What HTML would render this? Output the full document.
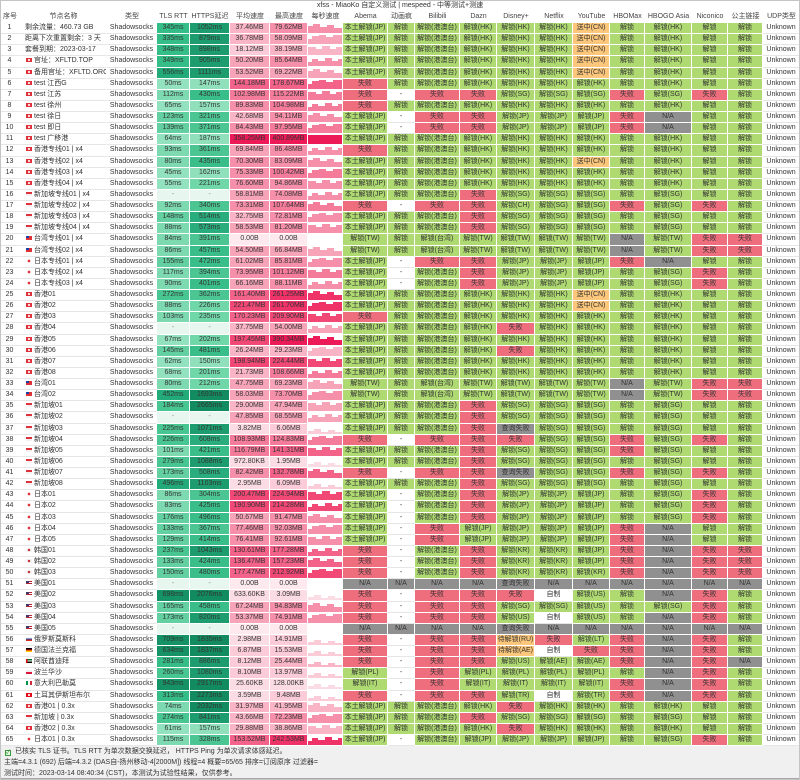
<!DOCTYPE html>
<html><head><meta charset="utf-8">
<style>
*{margin:0;padding:0;box-sizing:border-box}
html,body{width:800px;height:780px;overflow:hidden;background:#fff}
body{position:relative;font-family:"Liberation Sans","Noto Sans CJK SC",sans-serif;font-size:7px;color:#333}
.ttl{position:absolute;left:0;top:0;width:800px;height:11px;line-height:11px;text-align:center;color:#333}
.g{display:grid;grid-template-columns:20px 87px 50px 33px 40px 40px 38px 35px 45px 27px 45px 37px 38px 38px 37px 35px 47px 36px 35px 37px;position:absolute;left:0;width:800px}
.hd{top:11px;grid-template-rows:12px}
.hd>i{font-style:normal;display:block;text-align:center;white-space:nowrap;overflow:hidden;line-height:12px;color:#444}
.t{top:23px;grid-template-rows:repeat(65,11.125px)}
.t>i{font-style:normal;display:block;text-align:center;white-space:nowrap;overflow:hidden;line-height:10px;border-right:1px solid #fff;border-bottom:1px solid #fff;background:#fff}
.t>i:nth-child(20n+2){text-align:left;padding-left:5px}
.t>i:nth-child(20n+1),.t>i:nth-child(20n+2),.t>i:nth-child(20n+3),.t>i:nth-child(20n),.t>i.W{border-bottom-color:#e6e6e6}
.t svg{display:block;width:34px;height:10px}
.G{background:#aeda71!important}
.R{background:#ef6e7d!important}
.N{background:#909090!important}
.O{background:#fcc77a!important}
.m{background:#e7f7ef!important;color:#888}
.a1{background:#93e2bf!important}.a2{background:#7cd9b0!important}.a3{background:#62d0a0!important}.a4{background:#48c691!important}.a5{background:#35bd87!important}.a6{background:#22aa78!important}.a7{background:#159266!important}
.b1{background:#8fe0bb!important}.b2{background:#70d7a9!important}.b3{background:#4bc693!important}.b4{background:#3abe89!important}.b5{background:#29ad7c!important}.b6{background:#1d9c6e!important}.b7{background:#138b60!important}
.p0{background:#fde9ee!important}.p1{background:#fcdce4!important}.p2{background:#fbcbd7!important}.p3{background:#f9b5c6!important}.p4{background:#f7a3b8!important}.p5{background:#f68fa9!important}.p6{background:#f57b9b!important}.p7{background:#f36288!important}.p8{background:#f14876!important}.p9{background:#ef3267!important}.p10{background:#ec1b57!important}
.t b{display:inline-block;width:6px;height:4px;margin:0 2px 0 1px;vertical-align:0}
.hk{background:radial-gradient(circle,#fff 0 0.8px,#e0303a 1.2px)}
.tw{background:linear-gradient(#1c3fa0,#1c3fa0) 0 0/3px 2px no-repeat,#e0303a}
.sg{background:linear-gradient(#e0303a 50%,#f2f2f2 50%)}
.jp{background:radial-gradient(circle,#e0303a 0 1.2px,#fff 1.5px)}
.kr{background:radial-gradient(circle,#c8343e 0 1.1px,#f4f4f4 1.4px)}
.us{background:linear-gradient(#3c3b6e,#3c3b6e) 0 0/3px 2px no-repeat,linear-gradient(#b22234 25%,#fff 25% 50%,#b22234 50% 75%,#fff 75%)}
.ru{background:linear-gradient(#f4f4f4 33%,#1c3fa0 33% 66%,#d52b1e 66%)}
.de{background:linear-gradient(#000 33%,#d00 33% 66%,#fc0 66%)}
.ae{background:linear-gradient(90deg,#d00 25%,transparent 25%),linear-gradient(#00732f 33%,#fff 33% 66%,#000 66%)}
.pl{background:linear-gradient(#eee 50%,#dc143c 50%)}
.it{background:linear-gradient(90deg,#009246 33%,#fff 33% 66%,#ce2b37 66%)}
.tr{background:radial-gradient(circle,#fff 0 0.8px,#e30a17 1.2px)}
.ft{position:absolute;left:0;top:746px;width:800px;height:34px;background:#f0f0f0;border-bottom:2px solid #a8a8a8;padding-top:0}
.ft p{height:11px;line-height:11px;padding-left:4px;white-space:nowrap}
.ck{display:inline-block;width:6px;height:6px;border:1px solid #3a9a3a;background:#e8f6e8;color:#2a8a2a;font-size:6px;line-height:4px;text-align:center;margin:0 4px 0 1px;vertical-align:-1px}
.bd{position:absolute;left:0;top:0;width:800px;height:780px;border:1px solid #c4c4c4;pointer-events:none}
</style></head><body>
<svg width="0" height="0" style="position:absolute"><defs>
<path id="s1" d="M0 10V3H5V1H12V4H19V2H26V5H34V10Z"/>
<path id="s2" d="M0 10V5H4V2H11V1H18V3H25V1H34V10Z"/>
<path id="s3" d="M0 10V2H8V4H14V1H22V4H28V2H34V10Z"/>
<path id="s4" d="M0 10V6H4V3H10V5H17V2H24V5H30V3H34V10Z"/>
<path id="s5" d="M0 10V7H6V5H13V8H20V6H27V8H34V10Z"/>
<path id="s6" d="M0 10V1H34V10Z"/>
</defs></svg>
<div class="ttl">xfss - MiaoKo 自定义测试 | mespeed - 中等测试+测速</div>
<div class="g hd"><i>序号</i><i>节点名称</i><i>类型</i><i>TLS RTT</i><i>HTTPS延迟</i><i>平均速度</i><i>最高速度</i><i>每秒速度</i><i>Abema</i><i>动画疯</i><i>Bilibili</i><i>Dazn</i><i>Disney+</i><i>Netflix</i><i>YouTube</i><i>HBOMax</i><i>HBOGO Asia</i><i>Niconico</i><i>公主链接</i><i>UDP类型</i></div>
<div class="g t">
<i>1</i><i>剩余流量：460.73 GB</i><i>Shadowsocks</i><i class=a5>345ms</i><i class=b6>1052ms</i><i class=p3>37.46MB</i><i class=p5>79.62MB</i><i><svg><use href="#s1" fill="#f68fa9"/></svg></i><i class=G>本土解锁(JP)</i><i class=G>解锁</i><i class=G>解锁(港澳台)</i><i class=G>解锁(HK)</i><i class=G>解锁(HK)</i><i class=G>解锁(HK)</i><i class=O>送中(CN)</i><i class=G>解锁</i><i class=G>解锁(HK)</i><i class=G>解锁</i><i class=G>解锁</i><i>Unknown</i>
<i>2</i><i>距离下次重置剩余：3 天</i><i>Shadowsocks</i><i class=a5>335ms</i><i class=b6>879ms</i><i class=p3>36.78MB</i><i class=p4>58.09MB</i><i><svg><use href="#s2" fill="#f7a3b8"/></svg></i><i class=G>本土解锁(JP)</i><i class=G>解锁</i><i class=G>解锁(港澳台)</i><i class=G>解锁(HK)</i><i class=G>解锁(HK)</i><i class=G>解锁(HK)</i><i class=O>送中(CN)</i><i class=G>解锁</i><i class=G>解锁(HK)</i><i class=G>解锁</i><i class=G>解锁</i><i>Unknown</i>
<i>3</i><i>套餐到期：2023-03-17</i><i>Shadowsocks</i><i class=a5>348ms</i><i class=b6>898ms</i><i class=p2>18.12MB</i><i class=p3>38.19MB</i><i><svg><use href="#s3" fill="#f9b5c6"/></svg></i><i class=G>本土解锁(JP)</i><i class=G>解锁</i><i class=G>解锁(港澳台)</i><i class=G>解锁(HK)</i><i class=G>解锁(HK)</i><i class=G>解锁(HK)</i><i class=O>送中(CN)</i><i class=G>解锁</i><i class=G>解锁(HK)</i><i class=G>解锁</i><i class=G>解锁</i><i>Unknown</i>
<i>4</i><i><b class=hk></b>官址：XFLTD.TOP</i><i>Shadowsocks</i><i class=a5>349ms</i><i class=b6>905ms</i><i class=p4>50.20MB</i><i class=p5>85.64MB</i><i><svg><use href="#s4" fill="#f68fa9"/></svg></i><i class=G>本土解锁(JP)</i><i class=G>解锁</i><i class=G>解锁(港澳台)</i><i class=G>解锁(HK)</i><i class=G>解锁(HK)</i><i class=G>解锁(HK)</i><i class=O>送中(CN)</i><i class=G>解锁</i><i class=G>解锁(HK)</i><i class=G>解锁</i><i class=G>解锁</i><i>Unknown</i>
<i>5</i><i><b class=hk></b>备用官址：XFLTD.ORG</i><i>Shadowsocks</i><i class=a6>556ms</i><i class=b6>1111ms</i><i class=p4>53.52MB</i><i class=p4>69.22MB</i><i><svg><use href="#s1" fill="#f7a3b8"/></svg></i><i class=G>本土解锁(JP)</i><i class=G>解锁</i><i class=G>解锁(港澳台)</i><i class=G>解锁(HK)</i><i class=G>解锁(HK)</i><i class=G>解锁(HK)</i><i class=O>送中(CN)</i><i class=G>解锁</i><i class=G>解锁(HK)</i><i class=G>解锁</i><i class=G>解锁</i><i>Unknown</i>
<i>6</i><i><b class=hk></b>test 江西G</i><i>Shadowsocks</i><i class=a1>50ms</i><i class=b1>147ms</i><i class=p7>144.18MB</i><i class=p7>178.67MB</i><i><svg><use href="#s2" fill="#f36288"/></svg></i><i class=R>失败</i><i class=G>解锁</i><i class=G>解锁(港澳台)</i><i class=G>解锁(HK)</i><i class=G>解锁(HK)</i><i class=G>解锁(HK)</i><i class=G>解锁(HK)</i><i class=G>解锁</i><i class=G>解锁(HK)</i><i class=G>解锁</i><i class=G>解锁</i><i>Unknown</i>
<i>7</i><i><b class=hk></b>test 江苏</i><i>Shadowsocks</i><i class=a2>112ms</i><i class=b4>430ms</i><i class=p6>102.98MB</i><i class=p6>115.22MB</i><i><svg><use href="#s3" fill="#f57b9b"/></svg></i><i class=R>失败</i><i class=W>-</i><i class=R>失败</i><i class=R>失败</i><i class=G>解锁(SG)</i><i class=G>解锁(SG)</i><i class=G>解锁(SG)</i><i class=R>失败</i><i class=G>解锁(SG)</i><i class=R>失败</i><i class=G>解锁</i><i>Unknown</i>
<i>8</i><i><b class=hk></b>test 徐州</i><i>Shadowsocks</i><i class=a1>65ms</i><i class=b1>157ms</i><i class=p5>89.83MB</i><i class=p6>104.98MB</i><i><svg><use href="#s4" fill="#f57b9b"/></svg></i><i class=R>失败</i><i class=G>解锁</i><i class=G>解锁(港澳台)</i><i class=G>解锁(HK)</i><i class=G>解锁(HK)</i><i class=G>解锁(HK)</i><i class=G>解锁(HK)</i><i class=G>解锁</i><i class=G>解锁(HK)</i><i class=G>解锁</i><i class=G>解锁</i><i>Unknown</i>
<i>9</i><i><b class=hk></b>test 徐日</i><i>Shadowsocks</i><i class=a3>123ms</i><i class=b3>321ms</i><i class=p3>42.68MB</i><i class=p5>94.11MB</i><i><svg><use href="#s1" fill="#f68fa9"/></svg></i><i class=G>本土解锁(JP)</i><i class=W>-</i><i class=R>失败</i><i class=R>失败</i><i class=G>解锁(JP)</i><i class=G>解锁(JP)</i><i class=G>解锁(JP)</i><i class=R>失败</i><i class=N>N/A</i><i class=G>解锁</i><i class=G>解锁</i><i>Unknown</i>
<i>10</i><i><b class=hk></b>test 即日</i><i>Shadowsocks</i><i class=a3>139ms</i><i class=b3>371ms</i><i class=p5>84.43MB</i><i class=p6>97.95MB</i><i><svg><use href="#s2" fill="#f57b9b"/></svg></i><i class=G>本土解锁(JP)</i><i class=W>-</i><i class=R>失败</i><i class=R>失败</i><i class=G>解锁(JP)</i><i class=G>解锁(JP)</i><i class=G>解锁(JP)</i><i class=R>失败</i><i class=N>N/A</i><i class=G>解锁</i><i class=G>解锁</i><i>Unknown</i>
<i>11</i><i><b class=hk></b>test 广移港</i><i>Shadowsocks</i><i class=a1>64ms</i><i class=b1>187ms</i><i class=p10>358.25MB</i><i class=p10>400.89MB</i><i><svg><use href="#s6" fill="#ec1b57"/></svg></i><i class=G>本土解锁(JP)</i><i class=G>解锁</i><i class=G>解锁(港澳台)</i><i class=G>解锁(HK)</i><i class=G>解锁(HK)</i><i class=G>解锁(HK)</i><i class=G>解锁(HK)</i><i class=G>解锁</i><i class=G>解锁(HK)</i><i class=G>解锁</i><i class=G>解锁</i><i>Unknown</i>
<i>12</i><i><b class=hk></b>香港专线01 | x4</i><i>Shadowsocks</i><i class=a2>93ms</i><i class=b3>361ms</i><i class=p4>69.84MB</i><i class=p5>86.48MB</i><i><svg><use href="#s4" fill="#f68fa9"/></svg></i><i class=R>失败</i><i class=G>解锁</i><i class=G>解锁(港澳台)</i><i class=G>解锁(HK)</i><i class=G>解锁(HK)</i><i class=G>解锁(HK)</i><i class=G>解锁(HK)</i><i class=G>解锁</i><i class=G>解锁(HK)</i><i class=G>解锁</i><i class=G>解锁</i><i>Unknown</i>
<i>13</i><i><b class=hk></b>香港专线02 | x4</i><i>Shadowsocks</i><i class=a2>80ms</i><i class=b4>435ms</i><i class=p5>70.30MB</i><i class=p5>83.09MB</i><i><svg><use href="#s1" fill="#f68fa9"/></svg></i><i class=G>本土解锁(JP)</i><i class=G>解锁</i><i class=G>解锁(港澳台)</i><i class=G>解锁(HK)</i><i class=G>解锁(HK)</i><i class=G>解锁(HK)</i><i class=O>送中(CN)</i><i class=G>解锁</i><i class=G>解锁(HK)</i><i class=G>解锁</i><i class=G>解锁</i><i>Unknown</i>
<i>14</i><i><b class=hk></b>香港专线03 | x4</i><i>Shadowsocks</i><i class=a1>45ms</i><i class=b1>162ms</i><i class=p5>75.33MB</i><i class=p6>100.42MB</i><i><svg><use href="#s2" fill="#f57b9b"/></svg></i><i class=G>本土解锁(JP)</i><i class=G>解锁</i><i class=G>解锁(港澳台)</i><i class=G>解锁(HK)</i><i class=G>解锁(HK)</i><i class=G>解锁(HK)</i><i class=G>解锁(HK)</i><i class=G>解锁</i><i class=G>解锁(HK)</i><i class=G>解锁</i><i class=G>解锁</i><i>Unknown</i>
<i>15</i><i><b class=hk></b>香港专线04 | x4</i><i>Shadowsocks</i><i class=a1>55ms</i><i class=b2>221ms</i><i class=p5>76.60MB</i><i class=p5>94.86MB</i><i><svg><use href="#s3" fill="#f68fa9"/></svg></i><i class=G>本土解锁(JP)</i><i class=G>解锁</i><i class=G>解锁(港澳台)</i><i class=G>解锁(HK)</i><i class=G>解锁(HK)</i><i class=G>解锁(HK)</i><i class=G>解锁(HK)</i><i class=G>解锁</i><i class=G>解锁(HK)</i><i class=G>解锁</i><i class=G>解锁</i><i>Unknown</i>
<i>16</i><i><b class=sg></b>新加坡专线01 | x4</i><i>Shadowsocks</i><i class=m>-</i><i class=m>-</i><i class=p4>58.81MB</i><i class=p5>74.08MB</i><i><svg><use href="#s4" fill="#f68fa9"/></svg></i><i class=G>本土解锁(JP)</i><i class=G>解锁</i><i class=G>解锁(港澳台)</i><i class=R>失败</i><i class=G>解锁(SG)</i><i class=G>解锁(SG)</i><i class=G>解锁(SG)</i><i class=G>解锁</i><i class=G>解锁(SG)</i><i class=G>解锁</i><i class=G>解锁</i><i>Unknown</i>
<i>17</i><i><b class=sg></b>新加坡专线02 | x4</i><i>Shadowsocks</i><i class=a2>92ms</i><i class=b3>340ms</i><i class=p5>73.31MB</i><i class=p6>107.64MB</i><i><svg><use href="#s1" fill="#f57b9b"/></svg></i><i class=R>失败</i><i class=W>-</i><i class=R>失败</i><i class=R>失败</i><i class=G>解锁(CH)</i><i class=G>解锁(SG)</i><i class=G>解锁(SG)</i><i class=R>失败</i><i class=G>解锁(SG)</i><i class=R>失败</i><i class=G>解锁</i><i>Unknown</i>
<i>18</i><i><b class=sg></b>新加坡专线03 | x4</i><i>Shadowsocks</i><i class=a3>148ms</i><i class=b5>514ms</i><i class=p3>32.75MB</i><i class=p5>72.81MB</i><i><svg><use href="#s2" fill="#f68fa9"/></svg></i><i class=G>本土解锁(JP)</i><i class=G>解锁</i><i class=G>解锁(港澳台)</i><i class=R>失败</i><i class=G>解锁(SG)</i><i class=G>解锁(SG)</i><i class=G>解锁(SG)</i><i class=G>解锁</i><i class=G>解锁(SG)</i><i class=G>解锁</i><i class=G>解锁</i><i>Unknown</i>
<i>19</i><i><b class=sg></b>新加坡专线04 | x4</i><i>Shadowsocks</i><i class=a2>88ms</i><i class=b5>573ms</i><i class=p4>58.53MB</i><i class=p5>81.20MB</i><i><svg><use href="#s3" fill="#f68fa9"/></svg></i><i class=G>本土解锁(JP)</i><i class=G>解锁</i><i class=G>解锁(港澳台)</i><i class=R>失败</i><i class=G>解锁(SG)</i><i class=G>解锁(SG)</i><i class=G>解锁(SG)</i><i class=G>解锁</i><i class=G>解锁(SG)</i><i class=G>解锁</i><i class=G>解锁</i><i>Unknown</i>
<i>20</i><i><b class=tw></b>台湾专线01 | x4</i><i>Shadowsocks</i><i class=a2>84ms</i><i class=b3>391ms</i><i class=p0>0.00B</i><i class=p0>0.00B</i><i></i><i class=G>解锁(TW)</i><i class=G>解锁</i><i class=G>解锁(台湾)</i><i class=G>解锁(TW)</i><i class=G>解锁(TW)</i><i class=G>解锁(TW)</i><i class=G>解锁(TW)</i><i class=N>N/A</i><i class=G>解锁(TW)</i><i class=R>失败</i><i class=R>失败</i><i>Unknown</i>
<i>21</i><i><b class=tw></b>台湾专线02 | x4</i><i>Shadowsocks</i><i class=a2>86ms</i><i class=b4>457ms</i><i class=p4>54.50MB</i><i class=p4>66.84MB</i><i><svg><use href="#s1" fill="#f7a3b8"/></svg></i><i class=G>解锁(TW)</i><i class=G>解锁</i><i class=G>解锁(台湾)</i><i class=G>解锁(TW)</i><i class=G>解锁(TW)</i><i class=G>解锁(TW)</i><i class=G>解锁(TW)</i><i class=N>N/A</i><i class=G>解锁(TW)</i><i class=R>失败</i><i class=R>失败</i><i>Unknown</i>
<i>22</i><i><b class=jp></b>日本专线01 | x4</i><i>Shadowsocks</i><i class=a3>155ms</i><i class=b4>472ms</i><i class=p4>61.02MB</i><i class=p5>85.81MB</i><i><svg><use href="#s2" fill="#f68fa9"/></svg></i><i class=G>本土解锁(JP)</i><i class=W>-</i><i class=R>失败</i><i class=R>失败</i><i class=G>解锁(JP)</i><i class=G>解锁(JP)</i><i class=G>解锁(JP)</i><i class=R>失败</i><i class=N>N/A</i><i class=G>解锁</i><i class=G>解锁</i><i>Unknown</i>
<i>23</i><i><b class=jp></b>日本专线02 | x4</i><i>Shadowsocks</i><i class=a2>117ms</i><i class=b3>394ms</i><i class=p5>73.95MB</i><i class=p6>101.12MB</i><i><svg><use href="#s3" fill="#f57b9b"/></svg></i><i class=G>本土解锁(JP)</i><i class=W>-</i><i class=G>解锁(港澳台)</i><i class=R>失败</i><i class=G>解锁(JP)</i><i class=G>解锁(JP)</i><i class=G>解锁(JP)</i><i class=G>解锁</i><i class=G>解锁(SG)</i><i class=R>失败</i><i class=G>解锁</i><i>Unknown</i>
<i>24</i><i><b class=jp></b>日本专线03 | x4</i><i>Shadowsocks</i><i class=a2>90ms</i><i class=b4>401ms</i><i class=p4>66.16MB</i><i class=p5>88.11MB</i><i><svg><use href="#s4" fill="#f68fa9"/></svg></i><i class=G>本土解锁(JP)</i><i class=W>-</i><i class=G>解锁(港澳台)</i><i class=R>失败</i><i class=G>解锁(JP)</i><i class=G>解锁(JP)</i><i class=G>解锁(JP)</i><i class=G>解锁</i><i class=G>解锁(SG)</i><i class=R>失败</i><i class=G>解锁</i><i>Unknown</i>
<i>25</i><i><b class=hk></b>香港01</i><i>Shadowsocks</i><i class=a4>272ms</i><i class=b3>362ms</i><i class=p7>161.40MB</i><i class=p9>261.25MB</i><i><svg><use href="#s1" fill="#ef3267"/></svg></i><i class=G>本土解锁(JP)</i><i class=G>解锁</i><i class=G>解锁(港澳台)</i><i class=G>解锁(HK)</i><i class=G>解锁(HK)</i><i class=G>解锁(HK)</i><i class=O>送中(CN)</i><i class=G>解锁</i><i class=G>解锁(HK)</i><i class=G>解锁</i><i class=G>解锁</i><i>Unknown</i>
<i>26</i><i><b class=hk></b>香港02</i><i>Shadowsocks</i><i class=a2>88ms</i><i class=b2>226ms</i><i class=p8>221.47MB</i><i class=p9>261.70MB</i><i><svg><use href="#s2" fill="#ef3267"/></svg></i><i class=G>本土解锁(JP)</i><i class=G>解锁</i><i class=G>解锁(港澳台)</i><i class=G>解锁(HK)</i><i class=G>解锁(HK)</i><i class=G>解锁(HK)</i><i class=O>送中(CN)</i><i class=G>解锁</i><i class=G>解锁(HK)</i><i class=G>解锁</i><i class=G>解锁</i><i>Unknown</i>
<i>27</i><i><b class=hk></b>香港03</i><i>Shadowsocks</i><i class=a2>103ms</i><i class=b2>235ms</i><i class=p7>170.23MB</i><i class=p8>209.90MB</i><i><svg><use href="#s3" fill="#f14876"/></svg></i><i class=R>失败</i><i class=G>解锁</i><i class=G>解锁(港澳台)</i><i class=G>解锁(HK)</i><i class=G>解锁(HK)</i><i class=G>解锁(HK)</i><i class=G>解锁(HK)</i><i class=G>解锁</i><i class=G>解锁(HK)</i><i class=G>解锁</i><i class=G>解锁</i><i>Unknown</i>
<i>28</i><i><b class=hk></b>香港04</i><i>Shadowsocks</i><i class=m>-</i><i class=m>-</i><i class=p3>37.75MB</i><i class=p4>54.00MB</i><i><svg><use href="#s4" fill="#f7a3b8"/></svg></i><i class=G>本土解锁(JP)</i><i class=G>解锁</i><i class=G>解锁(港澳台)</i><i class=G>解锁(HK)</i><i class=R>失败</i><i class=G>解锁(HK)</i><i class=G>解锁(HK)</i><i class=G>解锁</i><i class=G>解锁(HK)</i><i class=G>解锁</i><i class=G>解锁</i><i>Unknown</i>
<i>29</i><i><b class=hk></b>香港05</i><i>Shadowsocks</i><i class=a1>67ms</i><i class=b2>202ms</i><i class=p8>197.45MB</i><i class=p10>390.34MB</i><i><svg><use href="#s1" fill="#ec1b57"/></svg></i><i class=G>本土解锁(JP)</i><i class=G>解锁</i><i class=G>解锁(港澳台)</i><i class=G>解锁(HK)</i><i class=G>解锁(HK)</i><i class=G>解锁(HK)</i><i class=G>解锁(HK)</i><i class=G>解锁</i><i class=G>解锁(HK)</i><i class=G>解锁</i><i class=G>解锁</i><i>Unknown</i>
<i>30</i><i><b class=hk></b>香港06</i><i>Shadowsocks</i><i class=a3>145ms</i><i class=b4>481ms</i><i class=p3>26.24MB</i><i class=p3>29.23MB</i><i><svg><use href="#s2" fill="#f9b5c6"/></svg></i><i class=G>本土解锁(JP)</i><i class=G>解锁</i><i class=G>解锁(港澳台)</i><i class=G>解锁(HK)</i><i class=R>失败</i><i class=G>解锁(HK)</i><i class=G>解锁(HK)</i><i class=G>解锁</i><i class=G>解锁(HK)</i><i class=G>解锁</i><i class=G>解锁</i><i>Unknown</i>
<i>31</i><i><b class=hk></b>香港07</i><i>Shadowsocks</i><i class=a1>62ms</i><i class=b1>150ms</i><i class=p8>198.94MB</i><i class=p8>224.44MB</i><i><svg><use href="#s3" fill="#f14876"/></svg></i><i class=G>本土解锁(JP)</i><i class=G>解锁</i><i class=G>解锁(港澳台)</i><i class=G>解锁(HK)</i><i class=G>解锁(HK)</i><i class=G>解锁(HK)</i><i class=G>解锁(HK)</i><i class=G>解锁</i><i class=G>解锁(HK)</i><i class=G>解锁</i><i class=G>解锁</i><i>Unknown</i>
<i>32</i><i><b class=hk></b>香港08</i><i>Shadowsocks</i><i class=a1>68ms</i><i class=b2>201ms</i><i class=p3>21.73MB</i><i class=p6>108.66MB</i><i><svg><use href="#s4" fill="#f57b9b"/></svg></i><i class=G>本土解锁(JP)</i><i class=G>解锁</i><i class=G>解锁(港澳台)</i><i class=G>解锁(HK)</i><i class=G>解锁(HK)</i><i class=G>解锁(HK)</i><i class=G>解锁(HK)</i><i class=G>解锁</i><i class=G>解锁(HK)</i><i class=G>解锁</i><i class=G>解锁</i><i>Unknown</i>
<i>33</i><i><b class=tw></b>台湾01</i><i>Shadowsocks</i><i class=a2>80ms</i><i class=b2>212ms</i><i class=p4>47.75MB</i><i class=p4>69.23MB</i><i><svg><use href="#s1" fill="#f7a3b8"/></svg></i><i class=G>解锁(TW)</i><i class=G>解锁</i><i class=G>解锁(台湾)</i><i class=G>解锁(TW)</i><i class=G>解锁(TW)</i><i class=G>解锁(TW)</i><i class=G>解锁(TW)</i><i class=N>N/A</i><i class=G>解锁(TW)</i><i class=R>失败</i><i class=R>失败</i><i>Unknown</i>
<i>34</i><i><b class=tw></b>台湾02</i><i>Shadowsocks</i><i class=a6>452ms</i><i class=b7>1693ms</i><i class=p4>58.03MB</i><i class=p5>73.70MB</i><i><svg><use href="#s2" fill="#f68fa9"/></svg></i><i class=G>解锁(TW)</i><i class=G>解锁</i><i class=G>解锁(台湾)</i><i class=G>解锁(TW)</i><i class=G>解锁(TW)</i><i class=G>解锁(TW)</i><i class=G>解锁(TW)</i><i class=N>N/A</i><i class=G>解锁(TW)</i><i class=R>失败</i><i class=R>失败</i><i>Unknown</i>
<i>35</i><i><b class=sg></b>新加坡01</i><i>Shadowsocks</i><i class=a4>184ms</i><i class=b7>2665ms</i><i class=p3>29.00MB</i><i class=p4>47.94MB</i><i><svg><use href="#s3" fill="#f7a3b8"/></svg></i><i class=G>本土解锁(JP)</i><i class=G>解锁</i><i class=G>解锁(港澳台)</i><i class=R>失败</i><i class=G>解锁(SG)</i><i class=G>解锁(SG)</i><i class=G>解锁(SG)</i><i class=G>解锁</i><i class=G>解锁(SG)</i><i class=G>解锁</i><i class=G>解锁</i><i>Unknown</i>
<i>36</i><i><b class=sg></b>新加坡02</i><i>Shadowsocks</i><i class=m>-</i><i class=m>-</i><i class=p4>47.85MB</i><i class=p4>68.55MB</i><i><svg><use href="#s4" fill="#f7a3b8"/></svg></i><i class=G>本土解锁(JP)</i><i class=G>解锁</i><i class=G>解锁(港澳台)</i><i class=R>失败</i><i class=G>解锁(SG)</i><i class=G>解锁(SG)</i><i class=G>解锁(SG)</i><i class=G>解锁</i><i class=G>解锁(SG)</i><i class=G>解锁</i><i class=G>解锁</i><i>Unknown</i>
<i>37</i><i><b class=sg></b>新加坡03</i><i>Shadowsocks</i><i class=a4>225ms</i><i class=b6>1071ms</i><i class=p1>3.82MB</i><i class=p2>6.06MB</i><i><svg><use href="#s5" fill="#fbcbd7"/></svg></i><i class=G>本土解锁(JP)</i><i class=G>解锁</i><i class=G>解锁(港澳台)</i><i class=R>失败</i><i class=N>查询失败</i><i class=G>解锁(SG)</i><i class=G>解锁(SG)</i><i class=G>解锁</i><i class=G>解锁(SG)</i><i class=G>解锁</i><i class=G>解锁</i><i>Unknown</i>
<i>38</i><i><b class=sg></b>新加坡04</i><i>Shadowsocks</i><i class=a4>226ms</i><i class=b5>608ms</i><i class=p6>108.93MB</i><i class=p6>124.83MB</i><i><svg><use href="#s2" fill="#f57b9b"/></svg></i><i class=R>失败</i><i class=W>-</i><i class=R>失败</i><i class=R>失败</i><i class=R>失败</i><i class=G>解锁(SG)</i><i class=G>解锁(SG)</i><i class=R>失败</i><i class=G>解锁(SG)</i><i class=R>失败</i><i class=G>解锁</i><i>Unknown</i>
<i>39</i><i><b class=sg></b>新加坡05</i><i>Shadowsocks</i><i class=a2>101ms</i><i class=b4>421ms</i><i class=p6>116.79MB</i><i class=p7>141.31MB</i><i><svg><use href="#s3" fill="#f36288"/></svg></i><i class=G>本土解锁(JP)</i><i class=G>解锁</i><i class=G>解锁(港澳台)</i><i class=R>失败</i><i class=G>解锁(SG)</i><i class=G>解锁(SG)</i><i class=G>解锁(SG)</i><i class=R>失败</i><i class=G>解锁(SG)</i><i class=G>解锁</i><i class=G>解锁</i><i>Unknown</i>
<i>40</i><i><b class=sg></b>新加坡06</i><i>Shadowsocks</i><i class=a4>279ms</i><i class=b6>1088ms</i><i class=p1>972.80KB</i><i class=p1>1.95MB</i><i><svg><use href="#s5" fill="#fcdce4"/></svg></i><i class=G>本土解锁(JP)</i><i class=G>解锁</i><i class=G>解锁(港澳台)</i><i class=R>失败</i><i class=G>解锁(SG)</i><i class=G>解锁(SG)</i><i class=G>解锁(SG)</i><i class=G>解锁</i><i class=G>解锁(SG)</i><i class=G>解锁</i><i class=G>解锁</i><i>Unknown</i>
<i>41</i><i><b class=sg></b>新加坡07</i><i>Shadowsocks</i><i class=a3>173ms</i><i class=b5>508ms</i><i class=p5>82.42MB</i><i class=p7>132.78MB</i><i><svg><use href="#s1" fill="#f36288"/></svg></i><i class=R>失败</i><i class=W>-</i><i class=R>失败</i><i class=R>失败</i><i class=N>查询失败</i><i class=G>解锁(SG)</i><i class=G>解锁(SG)</i><i class=R>失败</i><i class=G>解锁(SG)</i><i class=R>失败</i><i class=G>解锁</i><i>Unknown</i>
<i>42</i><i><b class=sg></b>新加坡08</i><i>Shadowsocks</i><i class=a6>496ms</i><i class=b6>1103ms</i><i class=p1>2.95MB</i><i class=p2>6.09MB</i><i><svg><use href="#s5" fill="#fbcbd7"/></svg></i><i class=G>本土解锁(JP)</i><i class=G>解锁</i><i class=G>解锁(港澳台)</i><i class=R>失败</i><i class=G>解锁(SG)</i><i class=G>解锁(SG)</i><i class=G>解锁(SG)</i><i class=G>解锁</i><i class=G>解锁(SG)</i><i class=G>解锁</i><i class=G>解锁</i><i>Unknown</i>
<i>43</i><i><b class=jp></b>日本01</i><i>Shadowsocks</i><i class=a2>86ms</i><i class=b3>304ms</i><i class=p8>200.47MB</i><i class=p8>224.94MB</i><i><svg><use href="#s3" fill="#f14876"/></svg></i><i class=G>本土解锁(JP)</i><i class=W>-</i><i class=G>解锁(港澳台)</i><i class=R>失败</i><i class=G>解锁(JP)</i><i class=G>解锁(JP)</i><i class=G>解锁(JP)</i><i class=G>解锁</i><i class=G>解锁(SG)</i><i class=R>失败</i><i class=G>解锁</i><i>Unknown</i>
<i>44</i><i><b class=jp></b>日本02</i><i>Shadowsocks</i><i class=a2>83ms</i><i class=b4>425ms</i><i class=p8>190.90MB</i><i class=p8>214.28MB</i><i><svg><use href="#s4" fill="#f14876"/></svg></i><i class=G>本土解锁(JP)</i><i class=W>-</i><i class=G>解锁(港澳台)</i><i class=R>失败</i><i class=G>解锁(JP)</i><i class=G>解锁(JP)</i><i class=G>解锁(JP)</i><i class=G>解锁</i><i class=G>解锁(SG)</i><i class=R>失败</i><i class=G>解锁</i><i>Unknown</i>
<i>45</i><i><b class=jp></b>日本03</i><i>Shadowsocks</i><i class=a3>176ms</i><i class=b4>496ms</i><i class=p4>50.67MB</i><i class=p5>91.47MB</i><i><svg><use href="#s1" fill="#f68fa9"/></svg></i><i class=G>本土解锁(JP)</i><i class=W>-</i><i class=G>解锁(港澳台)</i><i class=R>失败</i><i class=G>解锁(JP)</i><i class=G>解锁(JP)</i><i class=G>解锁(JP)</i><i class=G>解锁</i><i class=G>解锁(SG)</i><i class=R>失败</i><i class=G>解锁</i><i>Unknown</i>
<i>46</i><i><b class=jp></b>日本04</i><i>Shadowsocks</i><i class=a3>133ms</i><i class=b3>367ms</i><i class=p5>77.46MB</i><i class=p5>92.03MB</i><i><svg><use href="#s2" fill="#f68fa9"/></svg></i><i class=G>本土解锁(JP)</i><i class=W>-</i><i class=R>失败</i><i class=G>解锁(JP)</i><i class=G>解锁(JP)</i><i class=G>解锁(JP)</i><i class=G>解锁(JP)</i><i class=R>失败</i><i class=N>N/A</i><i class=G>解锁</i><i class=G>解锁</i><i>Unknown</i>
<i>47</i><i><b class=jp></b>日本05</i><i>Shadowsocks</i><i class=a3>129ms</i><i class=b4>414ms</i><i class=p5>76.41MB</i><i class=p5>92.61MB</i><i><svg><use href="#s3" fill="#f68fa9"/></svg></i><i class=G>本土解锁(JP)</i><i class=W>-</i><i class=R>失败</i><i class=G>解锁(JP)</i><i class=G>解锁(JP)</i><i class=G>解锁(JP)</i><i class=G>解锁(JP)</i><i class=R>失败</i><i class=N>N/A</i><i class=G>解锁</i><i class=G>解锁</i><i>Unknown</i>
<i>48</i><i><b class=kr></b>韩国01</i><i>Shadowsocks</i><i class=a4>237ms</i><i class=b6>1043ms</i><i class=p7>130.61MB</i><i class=p7>177.28MB</i><i><svg><use href="#s4" fill="#f36288"/></svg></i><i class=R>失败</i><i class=W>-</i><i class=G>解锁(港澳台)</i><i class=R>失败</i><i class=G>解锁(KR)</i><i class=G>解锁(KR)</i><i class=G>解锁(JP)</i><i class=R>失败</i><i class=N>N/A</i><i class=R>失败</i><i class=R>失败</i><i>Unknown</i>
<i>49</i><i><b class=kr></b>韩国02</i><i>Shadowsocks</i><i class=a3>133ms</i><i class=b4>424ms</i><i class=p7>136.47MB</i><i class=p7>157.23MB</i><i><svg><use href="#s1" fill="#f36288"/></svg></i><i class=R>失败</i><i class=W>-</i><i class=G>解锁(港澳台)</i><i class=R>失败</i><i class=G>解锁(KR)</i><i class=G>解锁(KR)</i><i class=G>解锁(JP)</i><i class=R>失败</i><i class=N>N/A</i><i class=R>失败</i><i class=R>失败</i><i>Unknown</i>
<i>50</i><i><b class=kr></b>韩国03</i><i>Shadowsocks</i><i class=a3>150ms</i><i class=b4>480ms</i><i class=p7>177.47MB</i><i class=p8>212.92MB</i><i><svg><use href="#s2" fill="#f14876"/></svg></i><i class=R>失败</i><i class=W>-</i><i class=G>解锁(港澳台)</i><i class=R>失败</i><i class=G>解锁(KR)</i><i class=G>解锁(KR)</i><i class=G>解锁(KR)</i><i class=R>失败</i><i class=N>N/A</i><i class=R>失败</i><i class=R>失败</i><i>Unknown</i>
<i>51</i><i><b class=us></b>美国01</i><i>Shadowsocks</i><i class=m>-</i><i class=m>-</i><i class=p0>0.00B</i><i class=p0>0.00B</i><i></i><i class=N>N/A</i><i class=N>N/A</i><i class=N>N/A</i><i class=N>N/A</i><i class=N>查询失败</i><i class=N>N/A</i><i class=N>N/A</i><i class=N>N/A</i><i class=N>N/A</i><i class=N>N/A</i><i class=N>N/A</i><i>Unknown</i>
<i>52</i><i><b class=us></b>美国02</i><i>Shadowsocks</i><i class=a7>698ms</i><i class=b7>2076ms</i><i class=p1>633.60KB</i><i class=p1>3.09MB</i><i><svg><use href="#s5" fill="#fcdce4"/></svg></i><i class=R>失败</i><i class=W>-</i><i class=R>失败</i><i class=R>失败</i><i class=R>失败</i><i class=W>自制</i><i class=G>解锁(US)</i><i class=G>解锁</i><i class=N>N/A</i><i class=R>失败</i><i class=G>解锁</i><i>Unknown</i>
<i>53</i><i><b class=us></b>美国03</i><i>Shadowsocks</i><i class=a3>165ms</i><i class=b4>458ms</i><i class=p4>67.24MB</i><i class=p5>94.83MB</i><i><svg><use href="#s1" fill="#f68fa9"/></svg></i><i class=R>失败</i><i class=W>-</i><i class=R>失败</i><i class=R>失败</i><i class=G>解锁(SG)</i><i class=G>解锁(SG)</i><i class=G>解锁(US)</i><i class=G>解锁</i><i class=G>解锁(SG)</i><i class=R>失败</i><i class=G>解锁</i><i>Unknown</i>
<i>54</i><i><b class=us></b>美国04</i><i>Shadowsocks</i><i class=a3>173ms</i><i class=b6>820ms</i><i class=p4>53.37MB</i><i class=p5>74.91MB</i><i><svg><use href="#s2" fill="#f68fa9"/></svg></i><i class=R>失败</i><i class=W>-</i><i class=R>失败</i><i class=R>失败</i><i class=G>解锁(US)</i><i class=W>自制</i><i class=G>解锁(US)</i><i class=G>解锁</i><i class=N>N/A</i><i class=R>失败</i><i class=G>解锁</i><i>Unknown</i>
<i>55</i><i><b class=us></b>美国05</i><i>Shadowsocks</i><i class=m>-</i><i class=m>-</i><i class=p0>0.00B</i><i class=p0>0.00B</i><i></i><i class=N>N/A</i><i class=N>N/A</i><i class=N>N/A</i><i class=N>N/A</i><i class=N>查询失败</i><i class=N>N/A</i><i class=N>N/A</i><i class=N>N/A</i><i class=N>N/A</i><i class=N>N/A</i><i class=N>N/A</i><i>Unknown</i>
<i>56</i><i><b class=ru></b>俄罗斯莫斯科</i><i>Shadowsocks</i><i class=a7>709ms</i><i class=b7>1835ms</i><i class=p1>2.98MB</i><i class=p2>14.91MB</i><i><svg><use href="#s5" fill="#fbcbd7"/></svg></i><i class=R>失败</i><i class=W>-</i><i class=R>失败</i><i class=R>失败</i><i class=O>待解锁(RU)</i><i class=R>失败</i><i class=G>解锁(LT)</i><i class=R>失败</i><i class=N>N/A</i><i class=R>失败</i><i class=G>解锁</i><i>Unknown</i>
<i>57</i><i><b class=de></b>德国法兰克福</i><i>Shadowsocks</i><i class=a7>634ms</i><i class=b7>1837ms</i><i class=p2>6.87MB</i><i class=p2>15.53MB</i><i><svg><use href="#s5" fill="#fbcbd7"/></svg></i><i class=R>失败</i><i class=W>-</i><i class=R>失败</i><i class=R>失败</i><i class=O>待解锁(AE)</i><i class=W>自制</i><i class=R>失败</i><i class=R>失败</i><i class=N>N/A</i><i class=R>失败</i><i class=G>解锁</i><i>Unknown</i>
<i>58</i><i><b class=ae></b>阿联酋迪拜</i><i>Shadowsocks</i><i class=a5>281ms</i><i class=b6>886ms</i><i class=p2>8.12MB</i><i class=p3>25.44MB</i><i><svg><use href="#s5" fill="#f9b5c6"/></svg></i><i class=R>失败</i><i class=W>-</i><i class=R>失败</i><i class=R>失败</i><i class=G>解锁(US)</i><i class=G>解锁(AE)</i><i class=G>解锁(AE)</i><i class=R>失败</i><i class=N>N/A</i><i class=R>失败</i><i class=N>N/A</i><i>Unknown</i>
<i>59</i><i><b class=pl></b>波兰华沙</i><i>Shadowsocks</i><i class=a4>260ms</i><i class=b6>1080ms</i><i class=p2>8.10MB</i><i class=p2>13.97MB</i><i><svg><use href="#s5" fill="#fbcbd7"/></svg></i><i class=G>解锁(PL)</i><i class=W>-</i><i class=R>失败</i><i class=G>解锁(PL)</i><i class=G>解锁(PL)</i><i class=G>解锁(PL)</i><i class=G>解锁(PL)</i><i class=G>解锁</i><i class=N>N/A</i><i class=R>失败</i><i class=G>解锁</i><i>Unknown</i>
<i>60</i><i><b class=it></b>意大利巴勒莫</i><i>Shadowsocks</i><i class=a7>943ms</i><i class=b7>2917ms</i><i class=p1>25.60KB</i><i class=p1>128.00KB</i><i><svg><use href="#s5" fill="#fcdce4"/></svg></i><i class=G>解锁(IT)</i><i class=W>-</i><i class=R>失败</i><i class=G>解锁(IT)</i><i class=G>解锁(IT)</i><i class=G>解锁(IT)</i><i class=G>解锁(IT)</i><i class=R>失败</i><i class=N>N/A</i><i class=R>失败</i><i class=G>解锁</i><i>Unknown</i>
<i>61</i><i><b class=tr></b>土耳其伊斯坦布尔</i><i>Shadowsocks</i><i class=a5>313ms</i><i class=b7>2273ms</i><i class=p1>3.59MB</i><i class=p2>9.48MB</i><i><svg><use href="#s5" fill="#fbcbd7"/></svg></i><i class=R>失败</i><i class=W>-</i><i class=R>失败</i><i class=R>失败</i><i class=G>解锁(TR)</i><i class=W>自制</i><i class=G>解锁(TR)</i><i class=R>失败</i><i class=N>N/A</i><i class=R>失败</i><i class=G>解锁</i><i>Unknown</i>
<i>62</i><i><b class=hk></b>香港01 | 0.3x</i><i>Shadowsocks</i><i class=a2>74ms</i><i class=b7>2032ms</i><i class=p3>31.97MB</i><i class=p3>41.95MB</i><i><svg><use href="#s1" fill="#f9b5c6"/></svg></i><i class=G>本土解锁(JP)</i><i class=G>解锁</i><i class=G>解锁(港澳台)</i><i class=G>解锁(HK)</i><i class=R>失败</i><i class=G>解锁(HK)</i><i class=G>解锁(HK)</i><i class=G>解锁</i><i class=G>解锁(HK)</i><i class=G>解锁</i><i class=G>解锁</i><i>Unknown</i>
<i>63</i><i><b class=sg></b>新加坡 | 0.3x</i><i>Shadowsocks</i><i class=a4>274ms</i><i class=b6>841ms</i><i class=p3>43.66MB</i><i class=p5>72.23MB</i><i><svg><use href="#s2" fill="#f68fa9"/></svg></i><i class=G>本土解锁(JP)</i><i class=G>解锁</i><i class=G>解锁(港澳台)</i><i class=R>失败</i><i class=G>解锁(SG)</i><i class=G>解锁(SG)</i><i class=G>解锁(SG)</i><i class=G>解锁</i><i class=G>解锁(SG)</i><i class=G>解锁</i><i class=G>解锁</i><i>Unknown</i>
<i>64</i><i><b class=hk></b>香港02 | 0.3x</i><i>Shadowsocks</i><i class=a1>61ms</i><i class=b1>157ms</i><i class=p3>29.88MB</i><i class=p3>38.86MB</i><i><svg><use href="#s3" fill="#f9b5c6"/></svg></i><i class=G>本土解锁(JP)</i><i class=G>解锁</i><i class=G>解锁(港澳台)</i><i class=G>解锁(HK)</i><i class=R>失败</i><i class=G>解锁(HK)</i><i class=G>解锁(HK)</i><i class=G>解锁</i><i class=G>解锁(HK)</i><i class=G>解锁</i><i class=G>解锁</i><i>Unknown</i>
<i>65</i><i><b class=jp></b>日本01 | 0.3x</i><i>Shadowsocks</i><i class=a2>115ms</i><i class=b3>328ms</i><i class=p7>153.52MB</i><i class=p9>242.53MB</i><i><svg><use href="#s4" fill="#ef3267"/></svg></i><i class=G>本土解锁(JP)</i><i class=W>-</i><i class=G>解锁(港澳台)</i><i class=G>解锁(JP)</i><i class=G>解锁(JP)</i><i class=G>解锁(JP)</i><i class=G>解锁(JP)</i><i class=G>解锁</i><i class=G>解锁(SG)</i><i class=R>失败</i><i class=G>解锁</i><i>Unknown</i>
</div>
<div class="ft">
<p><span class="ck">✓</span>已核实 TLS 证书。TLS RTT 为单次数据交换延迟， HTTPS Ping 为单次请求体感延迟。</p>
<p>主端=4.3.1 (692) 后端=4.3.2 (DAS自-扬州移动-4[2000M]) 线程=4 概要=65/65 排序=订阅原序 过滤器=</p>
<p>测试时间：2023-03-14 08:40:34 (CST)，本测试为试验性结果，仅供参考。</p>
</div>
<div class="bd"></div>
</body></html>
